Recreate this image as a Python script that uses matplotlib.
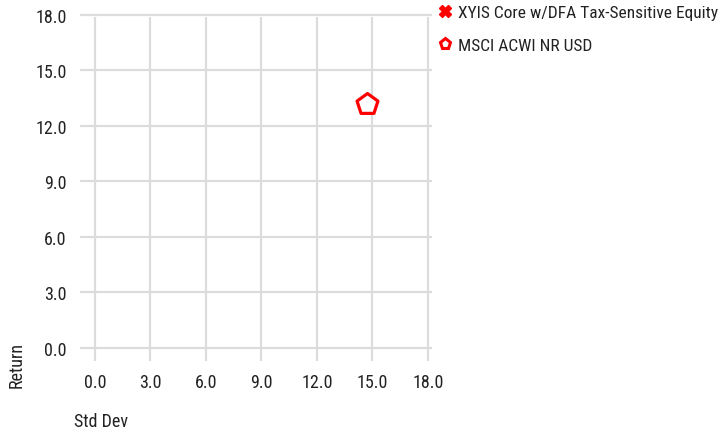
import matplotlib
matplotlib.use("Agg")
import matplotlib.pyplot as plt
from matplotlib.lines import Line2D

plt.rcParams['font.family'] = ['Roboto Condensed', 'DejaVu Sans']

# data
series_names = ["XYIS Core w/DFA Tax-Sensitive Equity", "MSCI ACWI NR USD"]
xyis_std = []
xyis_ret = []
acwi_std = [14.7]
acwi_ret = [13.2]
x_ticks = [0, 3, 6, 9, 12, 15, 18]
y_ticks = [0, 3, 6, 9, 12, 15, 18]

W, H = 722, 435
fig = plt.figure(figsize=(W / 100, H / 100), dpi=100)
# axes box in pixels: left 75, right 440, top 10, bottom 370
ax = fig.add_axes([75 / W, (H - 370) / H, 365 / W, 360 / H])
ax.set_xlim(-1.081, 18.65)
ax.set_ylim(-1.135, 18.32)
for s in ax.spines.values():
    s.set_visible(False)

grid_c = "#dcdcdc"
ax.hlines(y_ticks, -0.81, 18.2, color=grid_c, lw=1.6, zorder=1)
ax.vlines(x_ticks, -0.70, 17.9, color=grid_c, lw=1.6, zorder=1)

ax.scatter(xyis_std, xyis_ret, marker="X", s=120, color="#ff0000", zorder=3)
ax.scatter(acwi_std, acwi_ret, marker="p", s=250, facecolor="white",
           edgecolor="#ff0000", linewidths=2.3, zorder=3)

ax.set_xticks(x_ticks)
ax.set_xticklabels([f"{v:.1f}" for v in x_ticks])
ax.set_yticks(y_ticks)
ax.set_yticklabels([f"{v:.1f}" for v in y_ticks])
ax.tick_params(length=0, labelsize=13, colors="#222222")
ax.tick_params(axis="x", pad=3)
ax.tick_params(axis="y", pad=6)

fig.text(17 / W, 1 - 365 / H, "Return", rotation=90, ha="center", va="center",
         fontsize=13, color="#222222")
fig.text(74 / W, 1 - 422 / H, "Std Dev", ha="left", va="center",
         fontsize=13, color="#222222")

handles = [
    Line2D([], [], ls="none", marker="X", markersize=9, color="#ff0000"),
    Line2D([], [], ls="none", marker="p", markersize=8, markerfacecolor="white",
           markeredgecolor="#ff0000", markeredgewidth=2.2),
]
fig.legend(handles, series_names, loc="upper left",
           bbox_to_anchor=(428 / W, 1 + 1 / H), frameon=False, fontsize=12.5,
           handletextpad=0.1, handlelength=1.2, labelspacing=1.05,
           borderaxespad=0, labelcolor="#222222")

fig.savefig("out.png", dpi=100)
